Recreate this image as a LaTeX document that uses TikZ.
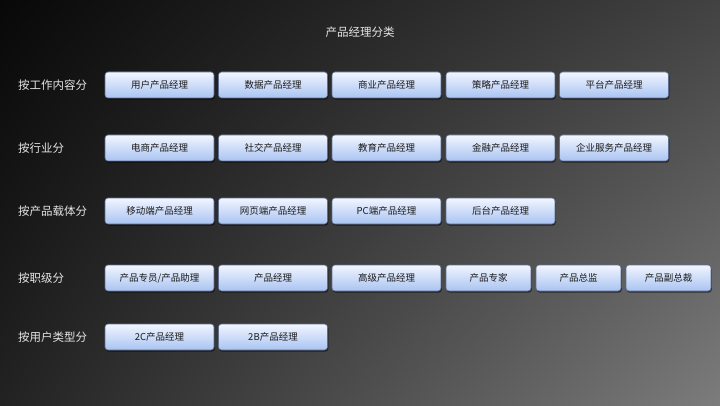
\documentclass[tikz,border=0pt]{standalone}
\usepackage{fontspec}
\setmainfont{Noto Sans CJK SC}
\usetikzlibrary{shadows,shadings}
\definecolor{boxtop}{HTML}{F2F6FF}
\definecolor{boxbot}{HTML}{A9C3F2}
\definecolor{boxline}{HTML}{5E6E90}
\definecolor{labeltext}{HTML}{E6E6E6}
\definecolor{boxtext}{HTML}{1A1A1A}
\definecolor{bgul}{HTML}{080808}
\definecolor{bgur}{HTML}{424242}
\definecolor{bgll}{HTML}{222222}
\definecolor{bglr}{HTML}{7C7C7C}
\tikzset{
  pm/.style={rounded corners=3pt, draw=boxline, line width=0.6pt,
    top color=boxtop, bottom color=boxbot, minimum height=26pt,
    minimum width=109pt, inner sep=0pt, text=boxtext, font=\fontsize{9.5}{10}\selectfont,
    drop shadow={shadow xshift=0.8pt, shadow yshift=-1.6pt, opacity=0.55, fill=black}},
  pmsmall/.style={pm, minimum width=85pt},
  cat/.style={anchor=west, text=labeltext, font=\fontsize{11.5}{12}\selectfont, inner sep=0pt},
}
\begin{document}
\begin{tikzpicture}[x=1pt,y=1pt]
\useasboundingbox (0,0) rectangle (720,405);
\shade[upper left=bgul, upper right=bgur, lower left=bgll, lower right=bglr]
  (0,0) rectangle (720,405);
\node[text=labeltext, font=\fontsize{11.5}{12}\selectfont] (title) at (360,373) {产品经理分类};
% row 1
\node[cat] (c1) at (18,320) {按工作内容分};
\node[pm] (a1) at (159.5,320) {用户产品经理};
\node[pm] (a2) at (273,320) {数据产品经理};
\node[pm] (a3) at (386.5,320) {商业产品经理};
\node[pm] (a4) at (500.5,320) {策略产品经理};
\node[pm] (a5) at (614,320) {平台产品经理};
% row 2
\node[cat] (c2) at (18,257) {按行业分};
\node[pm] (b1) at (159.5,257) {电商产品经理};
\node[pm] (b2) at (273,257) {社交产品经理};
\node[pm] (b3) at (386.5,257) {教育产品经理};
\node[pm] (b4) at (500.5,257) {金融产品经理};
\node[pm] (b5) at (614,257) {企业服务产品经理};
% row 3
\node[cat] (c3) at (18,194) {按产品载体分};
\node[pm] (d1) at (159.5,194) {移动端产品经理};
\node[pm] (d2) at (273,194) {网页端产品经理};
\node[pm] (d3) at (386.5,194) {PC端产品经理};
\node[pm] (d4) at (500.5,194) {后台产品经理};
% row 4
\node[cat] (c4) at (18,127) {按职级分};
\node[pm] (e1) at (159.5,127) {产品专员/产品助理};
\node[pm] (e2) at (273,127) {产品经理};
\node[pm] (e3) at (386.5,127) {高级产品经理};
\node[pmsmall] (e4) at (488.5,127) {产品专家};
\node[pmsmall] (e5) at (578.5,127) {产品总监};
\node[pmsmall] (e6) at (668.5,127) {产品副总裁};
% row 5
\node[cat] (c5) at (18,68) {按用户类型分};
\node[pm] (f1) at (159.5,68) {2C产品经理};
\node[pm] (f2) at (273,68) {2B产品经理};
\end{tikzpicture}
\end{document}
